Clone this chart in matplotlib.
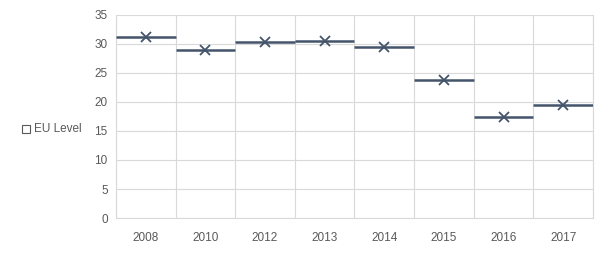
import numpy as np
import matplotlib.pyplot as plt

plt.rcParams['font.family'] = ['Liberation Sans', 'DejaVu Sans']

years = ['2008', '2010', '2012', '2013', '2014', '2015', '2016', '2017']
eu_level = [31.2, 29.0, 30.3, 30.5, 29.5, 23.8, 17.4, 19.5]

fig = plt.figure(figsize=(6.02, 2.58), dpi=100)
ax = fig.add_axes([0.1927, 0.155, 0.7923, 0.787])

x = np.arange(len(years))
ax.hlines(eu_level, x - 0.5, x + 0.5, color='#44546a', lw=1.8, zorder=3)
ax.plot(x, eu_level, ls='none', marker='x', ms=6.5, mew=1.3, color='#44546a', zorder=4)

ax.set_xlim(-0.5, len(years) - 0.5)
ax.set_ylim(0, 35)
ax.set_yticks(np.arange(0, 36, 5))
ax.set_xticks(x)
ax.set_xticklabels(years)
ax.set_xticks(np.arange(-0.5, len(years), 1), minor=True)

ax.grid(axis='y', color='#d9d9d9', lw=0.8)
ax.grid(axis='x', which='minor', color='#d9d9d9', lw=0.8)
ax.set_axisbelow(True)
for s in ax.spines.values():
    s.set_visible(False)
for side in ['bottom', 'right', 'left']:
    ax.spines[side].set_visible(True)
    ax.spines[side].set_color('#d9d9d9')
    ax.spines[side].set_linewidth(0.8)
ax.tick_params(which='both', length=0, labelsize=8.5, colors='#595959', pad=6)
ax.tick_params(axis='x', pad=10)

# legende a gauche
fig.patches.append(plt.Rectangle((22 / 602, 1 - 133 / 258), 8 / 602, 8 / 258,
                                 transform=fig.transFigure, fill=False,
                                 edgecolor='#595959', lw=0.8))
fig.text(34 / 602, 1 - 129 / 258, 'EU Level', fontsize=8.5, color='#595959', va='center')

plt.savefig('out.png')
